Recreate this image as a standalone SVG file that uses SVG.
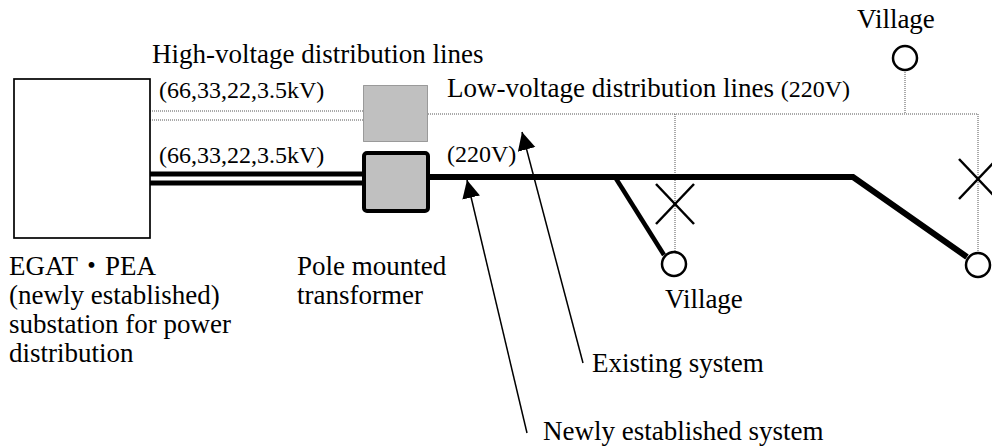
<svg xmlns="http://www.w3.org/2000/svg" width="992" height="448" viewBox="0 0 992 448">
<style>
text{font-family:"Liberation Serif","Noto Sans CJK JP",serif;font-size:27px;fill:#000}
.s{font-size:24px}
.dot{fill:none;stroke:#555;stroke-width:1;stroke-dasharray:1 1}
.thick{fill:none;stroke:#000;stroke-width:6}
.vil{fill:#fff;stroke:#000;stroke-width:2.5}
.x{stroke:#000;stroke-width:2.5}
.arr{stroke:#000;stroke-width:1.5;marker-end:url(#ah)}
</style>
<defs>
<marker id="ah" markerUnits="userSpaceOnUse" markerWidth="20" markerHeight="20" refX="18" refY="9" orient="auto">
<path d="M0,0 L18,9 L0,18 z" fill="#000"/>
</marker>
</defs>
<rect width="992" height="448" fill="#fff"/>
<g id="connectors">
<line class="dot" x1="150" y1="111" x2="363" y2="111"/>
<line class="dot" x1="150" y1="120" x2="363" y2="120"/>
<line class="dot" x1="428" y1="114" x2="978" y2="114"/>
<line class="dot" x1="675" y1="114" x2="675" y2="252"/>
<line class="dot" x1="978" y1="114" x2="978" y2="253"/>
<line class="dot" x1="905" y1="70" x2="905" y2="114"/>
<line stroke="#000" stroke-width="5" x1="150" y1="174" x2="364" y2="174"/>
<line stroke="#000" stroke-width="5" x1="150" y1="183" x2="364" y2="183"/>
<polyline class="thick" points="430,177 853,177 967,257"/>
<line stroke="#000" stroke-width="4.5" x1="615" y1="177" x2="664" y2="255"/>
<line class="arr" x1="583" y1="363" x2="522" y2="132"/>
<line class="arr" x1="527" y1="433" x2="467" y2="180"/>
</g>
<g id="substation">
<rect x="14" y="79" width="136" height="159" fill="#fff" stroke="#000" stroke-width="1.7"/>
<text x="9" y="275">EGAT・PEA</text>
<text x="9" y="304">(newly established)</text>
<text x="9" y="333">substation for power</text>
<text x="9" y="362">distribution</text>
</g>
<g id="existing-transformer">
<rect x="363.5" y="85.5" width="64" height="56" fill="#c0c0c0" stroke="#555" stroke-width="1" stroke-dasharray="1 1"/>
</g>
<g id="pole-transformer">
<rect x="364" y="153" width="64" height="58" rx="3" fill="#c0c0c0" stroke="#000" stroke-width="4"/>
<text x="297" y="275">Pole mounted</text>
<text x="297" y="304">transformer</text>
</g>
<g id="labels">
<text x="152" y="63">High-voltage distribution lines</text>
<text class="s" x="159" y="98">(66,33,22,3.5kV)</text>
<text class="s" x="159" y="163">(66,33,22,3.5kV)</text>
<text x="447" y="97">Low-voltage distribution lines <tspan class="s">(220V)</tspan></text>
<text class="s" x="447" y="162">(220V)</text>
<text x="592" y="372">Existing system</text>
<text x="543" y="440">Newly established system</text>
</g>
<g id="village-top">
<circle class="vil" cx="905" cy="58" r="12"/>
<text x="857" y="28">Village</text>
</g>
<g id="village-mid">
<line class="x" x1="656" y1="184" x2="694" y2="224"/>
<line class="x" x1="656" y1="224" x2="694" y2="184"/>
<circle class="vil" cx="674" cy="264" r="12"/>
<text x="665" y="308">Village</text>
</g>
<g id="village-right">
<line class="x" x1="959" y1="159" x2="997" y2="199"/>
<line class="x" x1="959" y1="199" x2="997" y2="159"/>
<circle class="vil" cx="978" cy="265" r="12"/>
</g>
</svg>
